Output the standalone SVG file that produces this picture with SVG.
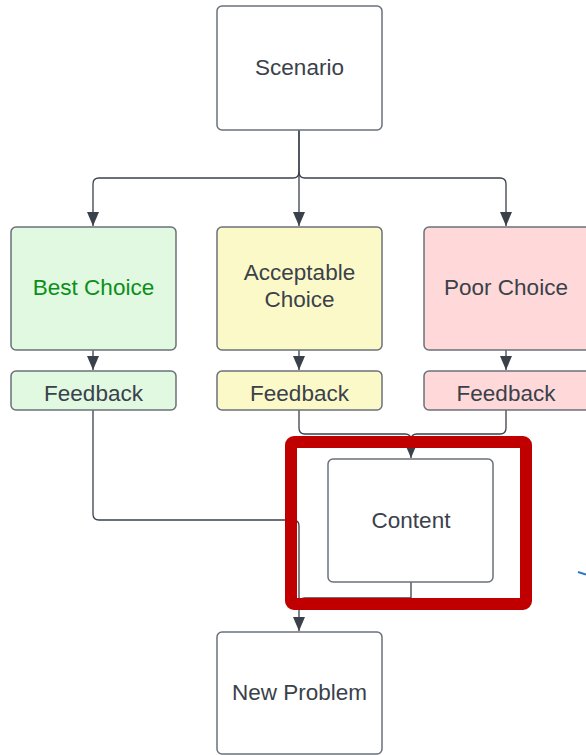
<svg xmlns="http://www.w3.org/2000/svg" width="586" height="755" viewBox="0 0 586 755">
<style>
.box{stroke:#6b7079;stroke-width:1.5}
.lbl{font-family:"Liberation Sans",Arial,sans-serif;font-size:22.5px;fill:#3a414a;text-anchor:middle;dominant-baseline:central}
.con{fill:none;stroke:#3a414a;stroke-width:1.3}
</style>
<defs>
<marker id="ad" viewBox="0 0 14 12" refX="14" refY="6" markerWidth="14" markerHeight="12" markerUnits="userSpaceOnUse" orient="auto">
<path d="M0,0 L14,6 L0,12 Z" fill="#3a414a"/>
</marker>
</defs>
<rect width="586" height="755" fill="#ffffff"/>
<g id="connectors">
<path class="con" d="M299,130 V172 Q299,178 293,178 H99 Q93,178 93,184 V226" marker-end="url(#ad)"/>
<path class="con" d="M299,130 V226" marker-end="url(#ad)"/>
<path class="con" d="M299,172 Q299,178 305,178 H500 Q506,178 506,184 V226" marker-end="url(#ad)"/>
<path class="con" d="M93,350 V370" marker-end="url(#ad)"/>
<path class="con" d="M299,350 V370" marker-end="url(#ad)"/>
<path class="con" d="M506,350 V370" marker-end="url(#ad)"/>
<path class="con" d="M299,410 V428 Q299,434 305,434 H405 Q411,434 411,440 V458" marker-end="url(#ad)"/>
<path class="con" d="M506,410 V428 Q506,434 500,434 H417 Q411,434 411,440" />
<path class="con" d="M93,410 V514 Q93,520 99,520 H293 Q299,520 299,526 V631" marker-end="url(#ad)"/>
<path class="con" d="M411,582 V598 H305 Q299,598 299,604" />
</g>
<g id="scenario"><rect class="box" x="217" y="6" width="165" height="124" rx="5" fill="#ffffff"/><text class="lbl" x="299.5" y="67">Scenario</text></g>
<g id="best-choice"><rect class="box" x="11" y="227" width="165" height="123" rx="5" fill="#e1f8e1"/><text class="lbl" x="93.5" y="287" style="fill:#0b8f1a">Best Choice</text></g>
<g id="acceptable-choice"><rect class="box" x="217" y="227" width="165" height="123" rx="5" fill="#fcf9c8"/><text class="lbl" x="299.5" y="272">Acceptable</text><text class="lbl" x="299.5" y="299">Choice</text></g>
<g id="poor-choice"><rect class="box" x="424" y="227" width="166" height="123" rx="5" fill="#ffd9d9"/><text class="lbl" x="506" y="287">Poor Choice</text></g>
<g id="feedback-best"><rect class="box" x="11" y="371" width="165" height="39" rx="5" fill="#e1f8e1"/><text class="lbl" x="93.5" y="393">Feedback</text></g>
<g id="feedback-acceptable"><rect class="box" x="217" y="371" width="165" height="39" rx="5" fill="#fcf9c8"/><text class="lbl" x="299.5" y="393">Feedback</text></g>
<g id="feedback-poor"><rect class="box" x="424" y="371" width="166" height="39" rx="5" fill="#ffd9d9"/><text class="lbl" x="506" y="393">Feedback</text></g>
<g id="content"><rect class="box" x="328" y="459" width="165" height="123" rx="5" fill="#ffffff"/><text class="lbl" x="411" y="520">Content</text></g>
<g id="new-problem"><rect class="box" x="217" y="632" width="165" height="122" rx="5" fill="#ffffff"/><text class="lbl" x="299.5" y="692">New Problem</text></g>
<g id="highlight"><rect x="291" y="442" width="235" height="162" rx="3" fill="none" stroke="#c00000" stroke-width="12"/></g>
<path d="M578,572 L586,574.5" stroke="#2a7ac8" stroke-width="2" fill="none"/>
</svg>
